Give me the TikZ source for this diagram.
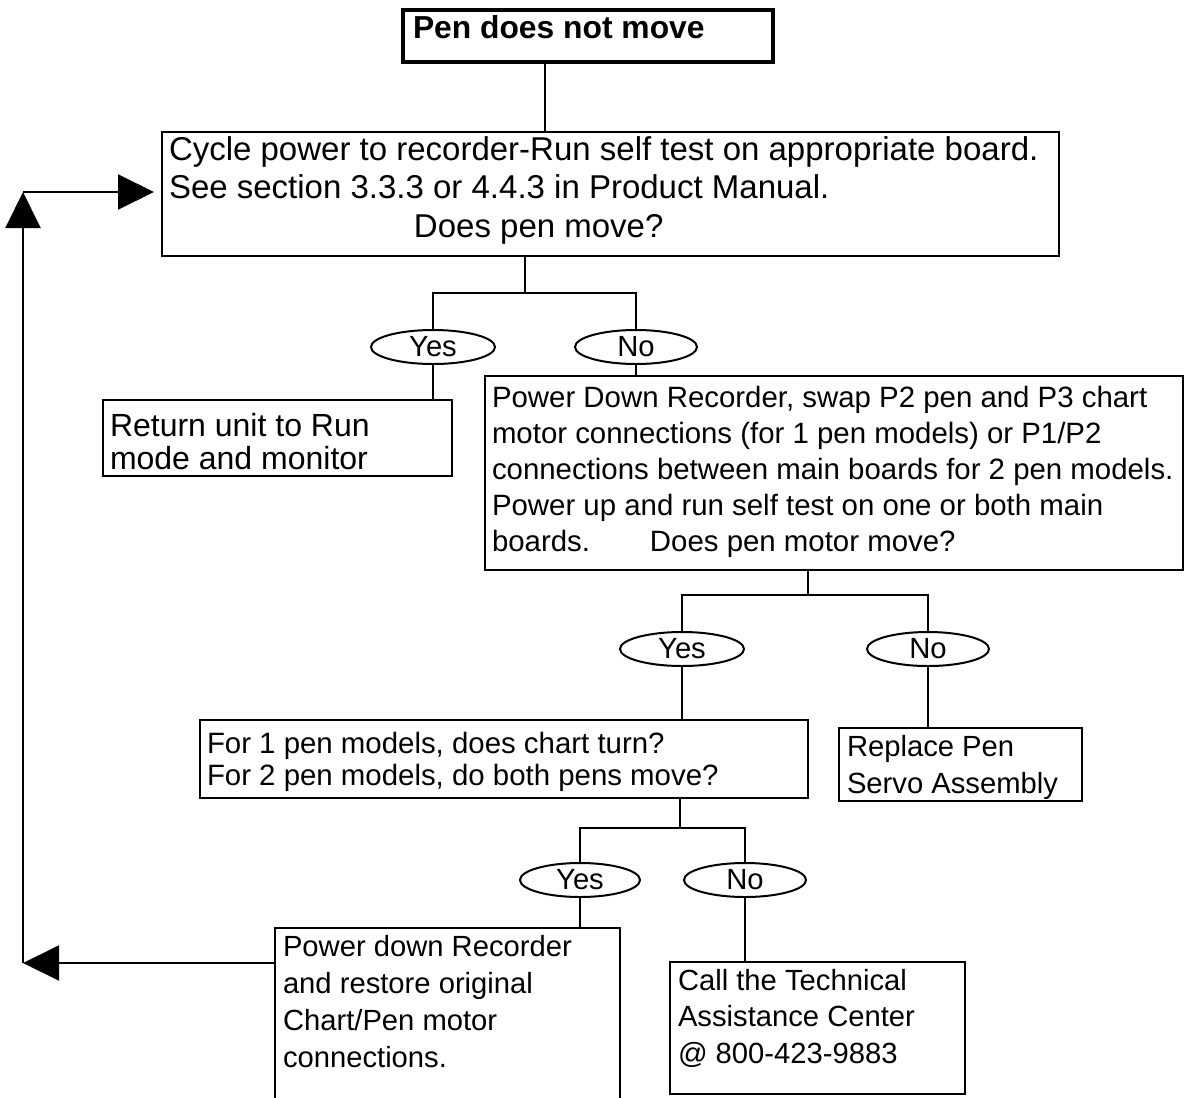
\documentclass[tikz,border=0pt]{standalone}
\usepackage{fontspec}
\setmainfont{Liberation Sans}
\usetikzlibrary{shapes.geometric,arrows.meta}
\newcommand\bt[6]{\parbox[c][#2][t]{#1}{\raggedright\fontsize{#3}{#4}\selectfont\rule{0pt}{#5}#6\par}}
\begin{document}
\begin{tikzpicture}[x=0.5pt,y=-0.5pt]
\tikzset{
  box/.style={draw, line width=0.9pt, inner xsep=3.5pt, inner ysep=0pt, outer sep=0pt, anchor=north west},
  yn/.style={draw, ellipse, line width=1pt, minimum width=62pt, minimum height=17pt, inner sep=0pt, font=\fontsize{14.6pt}{16pt}\selectfont},
  conn/.style={line width=1pt},
  bigarrow/.style={line width=1pt, -{Triangle[length=18pt,width=17.5pt]}}
}
\useasboundingbox (0,0) rectangle (1184,1098);

\node[box, line width=2pt, inner xsep=5pt] (top) at (403,10) {\bt{175pt}{26pt}{15.9pt}{18pt}{14pt}{\bfseries Pen does not move}};

\node[box] (b2) at (162,132) {\bt{441.5pt}{62pt}{16.5pt}{19.25pt}{14pt}{Cycle power to recorder-Run self test on appropriate board.\\See section 3.3.3 or 4.4.3 in Product Manual.\\\hspace*{122.5pt}Does pen move?}};

\node[box] (ret) at (103,400) {\bt{167.5pt}{38pt}{16pt}{16.5pt}{18pt}{Return unit to Run\\mode and monitor}};

\node[box] (pd) at (485,376) {\bt{342pt}{97pt}{14.7pt}{18.1pt}{15.5pt}{Power Down Recorder, swap P2 pen and P3 chart\\motor connections (for 1 pen models) or P1/P2\\connections between main boards for 2 pen models.\\Power up and run self test on one or both main\\\makebox[79pt][l]{boards.}Does pen motor move?}};

\node[box] (q3) at (200,720) {\bt{297pt}{39pt}{14.7pt}{16pt}{16.5pt}{For 1 pen models, does chart turn?\\For 2 pen models, do both pens move?}};

\node[box, inner xsep=4pt] (rep) at (839,728) {\bt{113.5pt}{36.5pt}{14.6pt}{18.5pt}{14pt}{Replace Pen\\Servo Assembly}};

\node[box, draw=none, inner xsep=4pt] (pwr) at (275,928) {\bt{164.5pt}{85pt}{14.6pt}{18.5pt}{14pt}{Power down Recorder\\and restore original\\Chart/Pen motor\\connections.}};
\draw[line width=0.9pt] (pwr.south west) -- (pwr.north west) -- (pwr.north east) -- (pwr.south east);

\node[box, inner xsep=4pt] (call) at (670,962) {\bt{139.5pt}{66pt}{14.6pt}{18.25pt}{14pt}{Call the Technical\\Assistance Center\\@ 800-423-9883}};

\node[yn] (y1) at (433,347) {Yes};
\node[yn, minimum width=61pt] (n1) at (636,347) {No};
\node[yn] (y2) at (682,649) {Yes};
\node[yn, minimum width=61pt] (n2) at (928,649) {No};
\node[yn, minimum width=60pt] (y3) at (580,880) {Yes};
\node[yn, minimum width=61pt] (n3) at (745,880) {No};

\coordinate (t0) at (545,0);
\draw[conn] (top.south -| t0) -- (b2.north -| t0);
\coordinate (f1) at (525,293);
\draw[conn] (b2.south -| f1) -- (f1);
\draw[conn] (y1.north) |- (f1) -| (n1.north);
\draw[conn] (y1.south) -- (ret.north -| y1.south);
\draw[conn] (n1.south) -- (pd.north -| n1.south);
\coordinate (f2) at (808,595);
\draw[conn] (pd.south -| f2) -- (f2);
\draw[conn] (y2.north) |- (f2) -| (n2.north);
\draw[conn] (y2.south) -- (q3.north -| y2.south);
\draw[conn] (n2.south) -- (rep.north -| n2.south);
\coordinate (f3) at (680,828);
\draw[conn] (q3.south -| f3) -- (f3);
\draw[conn] (y3.north) |- (f3) -| (n3.north);
\draw[conn] (y3.south) -- (pwr.north -| y3.south);
\draw[conn] (n3.south) -- (call.north -| n3.south);

\coordinate (lc) at (23,963);
\coordinate (uc) at (23,192);
\draw[bigarrow] (lc -| pwr.west) -- (lc);
\draw[bigarrow] (lc) -- (uc);
\draw[bigarrow, shorten >=4pt] (uc) -- (uc -| b2.west);
\end{tikzpicture}
\end{document}
